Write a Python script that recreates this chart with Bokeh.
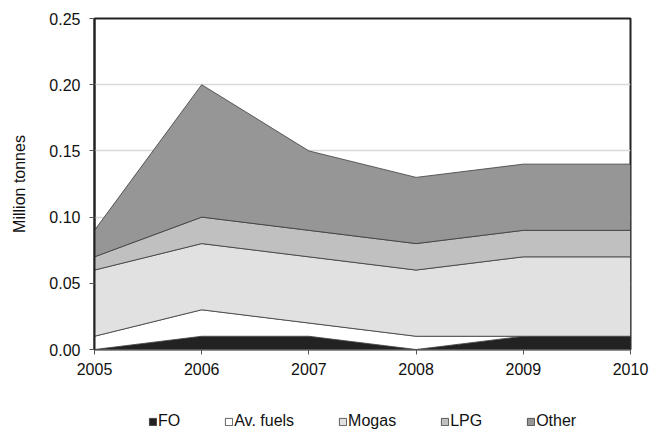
import numpy as np
from bokeh.plotting import figure
from bokeh.layouts import column
from bokeh.models import Range1d, FixedTicker, Legend, LegendItem, NumeralTickFormatter
from bokeh.embed import file_html
from bokeh.resources import INLINE

years = [2005, 2006, 2007, 2008, 2009, 2010]
series_names = ["FO", "Av. fuels", "Mogas", "LPG", "Other"]
fo = [0.00, 0.01, 0.01, 0.00, 0.01, 0.01]
av_fuels = [0.01, 0.02, 0.01, 0.01, 0.00, 0.00]
mogas = [0.05, 0.05, 0.05, 0.05, 0.06, 0.06]
lpg = [0.01, 0.02, 0.02, 0.02, 0.02, 0.02]
other = [0.02, 0.10, 0.06, 0.05, 0.05, 0.05]
colors = ["#222222", "#ffffff", "#e1e1e1", "#c0c0c0", "#969696"]
y_ticks = [0.0, 0.05, 0.10, 0.15, 0.20, 0.25]

FONT = "Liberation Sans"
FS = "16px"

p = figure(width=661, height=390, output_backend="svg", toolbar_location=None,
           x_range=Range1d(2005, 2010), y_range=Range1d(0, 0.25),
           min_border_left=94, min_border_right=31, min_border_top=18, min_border_bottom=41)

p.background_fill_color = "white"
p.border_fill_color = "white"
p.outline_line_color = "#222222"
p.outline_line_width = 2

p.xgrid.visible = False
p.ygrid.ticker = FixedTicker(ticks=y_ticks)
p.ygrid.grid_line_color = "#d9d9d9"
p.ygrid.grid_line_width = 1.5

x = np.array(years, dtype=float)
layers = [np.array(s) for s in (fo, av_fuels, mogas, lpg, other)]

def build_patches(fig):
    bottom = np.zeros(len(years))
    out = []
    for vals, col, name in zip(layers, colors, series_names):
        top = bottom + vals
        xs = list(x) + list(x[::-1])
        ys = list(top) + list(bottom[::-1])
        r = fig.patch(xs, ys, fill_color=col, line_color="#3a3a3a", line_width=0.8)
        out.append((name, r))
        bottom = top
    return out

build_patches(p)

# axes
p.yaxis.ticker = FixedTicker(ticks=y_ticks)
p.yaxis.formatter = NumeralTickFormatter(format="0.00")
p.yaxis.axis_label = "Million tonnes"
p.yaxis.axis_label_text_font = FONT
p.yaxis.axis_label_text_font_size = FS
p.yaxis.axis_label_text_font_style = "normal"
p.yaxis.axis_label_text_color = "#111111"
p.yaxis.axis_label_standoff = 18
p.yaxis.axis_line_color = "#222222"
p.yaxis.axis_line_width = 2
p.yaxis.major_tick_out = 5
p.yaxis.major_tick_in = 0
p.yaxis.minor_tick_out = 0
p.yaxis.minor_tick_in = 0
p.yaxis.major_tick_line_color = "#555555"
p.yaxis.major_label_text_font = FONT
p.yaxis.major_label_text_font_size = FS
p.yaxis.major_label_text_color = "#111111"
p.yaxis.major_label_standoff = 9

p.xaxis.ticker = FixedTicker(ticks=years)
p.xaxis.axis_line_color = "#555555"
p.xaxis.axis_line_width = 1
p.xaxis.major_tick_out = 5
p.xaxis.major_tick_in = 0
p.xaxis.minor_tick_out = 0
p.xaxis.major_tick_line_color = "#555555"
p.xaxis.major_label_text_font = FONT
p.xaxis.major_label_text_font_size = FS
p.xaxis.major_label_text_color = "#111111"
p.xaxis.major_label_standoff = 8

# legend strip (a separate figure below, legend only; its frame aligns with p's frame)
p2 = figure(width=661, height=40, output_backend="svg", toolbar_location=None,
            x_range=Range1d(0, 1), y_range=Range1d(10, 11),
            x_axis_type=None, y_axis_type=None,
            min_border_left=0, min_border_right=0, min_border_top=0, min_border_bottom=0)
p2.outline_line_color = None
p2.xgrid.visible = False
p2.ygrid.visible = False
leg_renderers = build_patches(p2)

legend = Legend(items=[LegendItem(label=n, renderers=[r]) for n, r in leg_renderers],
                orientation="horizontal", location=(54, 0),
                glyph_width=9, glyph_height=9, label_standoff=1, spacing=44,
                label_text_font=FONT, label_text_font_size=FS,
                label_text_color="#111111", border_line_color=None,
                background_fill_alpha=0, padding=0, margin=0)
legend.label_height = 16
p2.add_layout(legend, "center")

layout = column(p, p2, spacing=0)

open("out.html", "w").write(file_html(layout, INLINE))
